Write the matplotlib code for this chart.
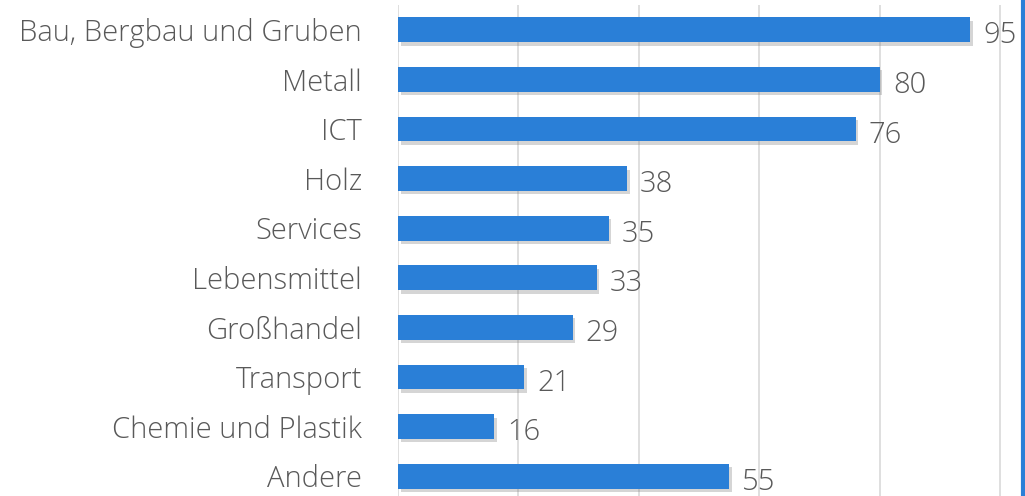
import matplotlib
matplotlib.use("Agg")
import matplotlib.pyplot as plt
import matplotlib.patheffects as pe
from matplotlib.lines import Line2D

categories = ["Bau, Bergbau und Gruben", "Metall", "ICT", "Holz", "Services",
              "Lebensmittel", "Großhandel", "Transport", "Chemie und Plastik", "Andere"]
values = [95, 80, 76, 38, 35, 33, 29, 21, 16, 55]
ticks = [0, 20, 40, 60, 80, 100]

plt.rcParams['font.family'] = ['Open Sans', 'DejaVu Sans']

W, H = 1025, 496
fig = plt.figure(figsize=(W / 100, H / 100), dpi=100)
left, right = 398 / W, 1020 / W
top, bottom = 1 - 5 / H, 0.0
ax = fig.add_axes([left, bottom, right - left, top - bottom])

bar_color = "#2a7fd7"
text_color = "#595959"
fs = 21
y = list(range(len(categories)))
bars = ax.barh(y, values, height=0.5, color=bar_color, zorder=3)
for b in bars:
    b.set_path_effects([pe.SimplePatchShadow(offset=(2, -2.5), shadow_rgbFace="#777777", alpha=0.3),
                        pe.Normal()])

xmax = 100 * (1020 - 398) / (1000 - 398)
ax.set_xlim(0, xmax)
ax.set_ylim(9.4, -0.5)
ax.set_xticks(ticks)
ax.xaxis.grid(True, color="#d9d9d9", linewidth=1.2, zorder=0)
ax.tick_params(axis='x', length=0, labelbottom=False)
ax.set_yticks(y)
ax.set_yticklabels(categories, fontsize=fs, color=text_color, fontweight='light')
ax.tick_params(axis='y', length=0, pad=26)
for s in ax.spines.values():
    s.set_visible(False)

for yi, v in zip(y, values):
    ax.text(v + 2.2, yi + 0.12, str(v), va='center', ha='left', fontsize=fs,
            color=text_color, fontweight='light', clip_on=False, zorder=4)

fig.add_artist(Line2D([1022.5 / W, 1022.5 / W], [0, 1], color="#2a7fd7", linewidth=3,
                      transform=fig.transFigure))

fig.savefig("out.png", dpi=100)
